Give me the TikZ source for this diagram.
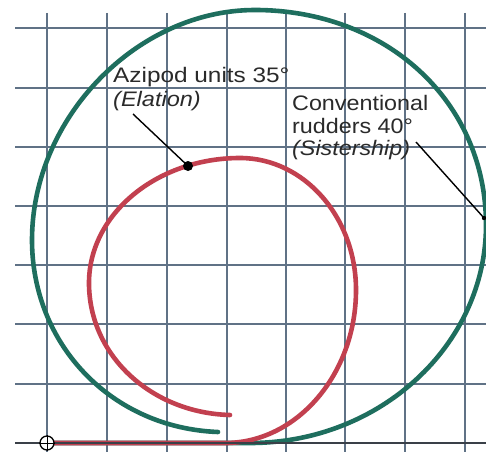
\documentclass[tikz,border=0pt]{standalone}
\usepackage{fontspec}
\setmainfont{Liberation Sans}
\usepackage{graphicx}
\definecolor{gridc}{HTML}{607286}
\definecolor{axisc}{HTML}{3A4048}
\definecolor{greenc}{HTML}{1E6E5E}
\definecolor{redc}{HTML}{C2404F}
\definecolor{txtc}{HTML}{2A2A2A}
\begin{document}
\begin{tikzpicture}[x=1pt,y=-1pt,
  gridline/.style={draw=gridc, line width=1.6pt},
  axisline/.style={draw=axisc, line width=2.2pt},
  track/.style={line width=4.6pt, line cap=round, line join=round},
  lbl/.style={anchor=base west, inner sep=0pt, text=txtc, font=\fontsize{21}{24}\selectfont},
  leader/.style={draw=black, line width=1.4pt}]
\useasboundingbox[fill=white] (0,0) rectangle (486,457);
% grid
\foreach \x in {47,107,167,227,286,345,405,465} \draw[gridline] (\x,13) -- (\x,452);
\foreach \y in {28,88,147,206,265,324,384} \draw[gridline] (15,\y) -- (486,\y);
% conventional rudders track
\draw[track, greenc] (47,443) -- (250,443)
  .. controls (380,443) and (486,345) .. (486,225)
  .. controls (486,100) and (385,10) .. (255,10)
  .. controls (137,10) and (32,118) .. (32,240)
  .. controls (32,345) and (112,428) .. (218,432);
% azipod track
\draw[track, redc] (47,443) -- (225,443)
  .. controls (297,443) and (356,374) .. (356,290)
  .. controls (356,217) and (304,158) .. (240,158)
  .. controls (157,158) and (89,214) .. (89,283)
  .. controls (89,356) and (152,413) .. (230,415);
% axis
\draw[axisline] (15,443) -- (486,443);
% origin marker
\node[draw=black, fill=white, circle, line width=1.3pt, minimum size=14pt, inner sep=0pt] (origin) at (47,443) {};
\draw[black, line width=0.7pt] (origin.north) -- (origin.south) (origin.west) -- (origin.east);
% leaders
\coordinate (azdot) at (188,166);
\coordinate (azstart) at (133,114);
\coordinate (cvend) at (484,218);
\coordinate (cvstart) at (416,142);
\fill[black] (azdot) circle (5pt);
\draw[leader] (azstart) -- (azdot);
\draw[leader] (cvstart) -- (cvend);
\fill[black] (cvend) circle (2.2pt);
% labels
\node[lbl] (az1) at (113,83) {\scalebox{1.16}[1]{Azipod units 35°}};
\node[lbl] (az2) at (113,107) {\scalebox{1.12}[1]{\itshape (Elation)}};
\node[lbl] (cv1) at (292,111) {\scalebox{1.11}[1]{Conventional}};
\node[lbl] (cv2) at (292,133) {\scalebox{1.11}[1]{rudders 40°}};
\node[lbl] (cv3) at (292,155) {\scalebox{1.11}[1]{\itshape (Sistership)}};
\end{tikzpicture}
\end{document}
